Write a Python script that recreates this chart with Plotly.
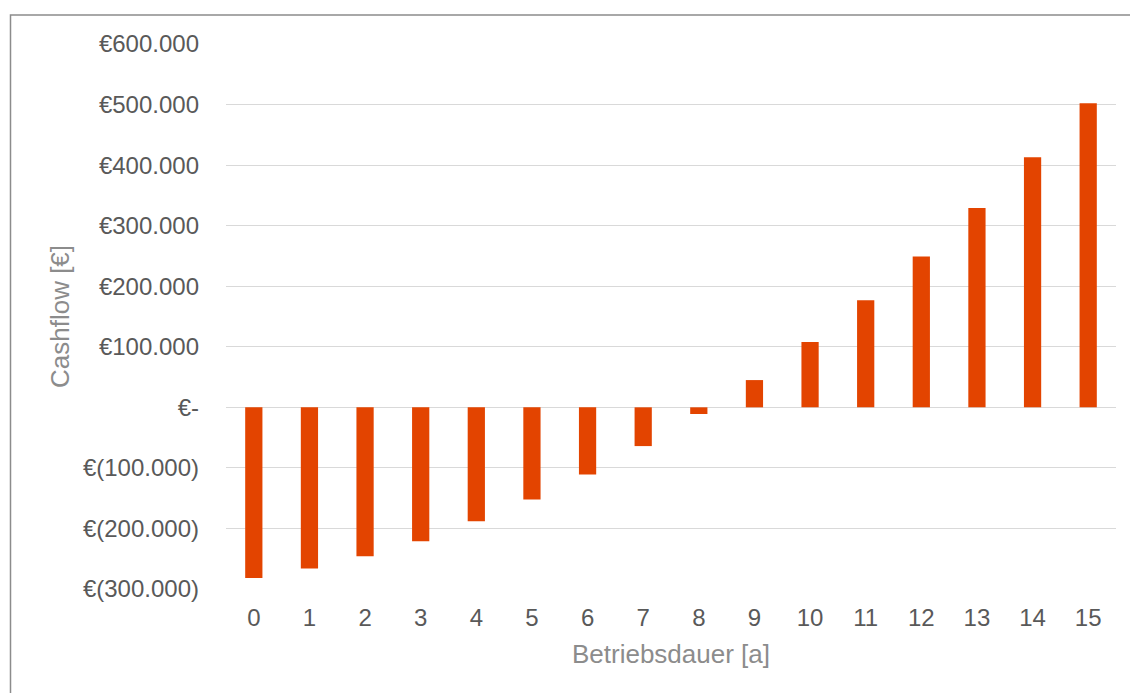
import plotly.graph_objects as go

# Operating years and annual cumulative cashflow in euros
years = list(range(16))
cashflow = [-282000, -266000, -246000, -221000, -188000, -152000, -111000, -64000,
            -11000, 45000, 108000, 177000, 249000, 329000, 413000, 502000]

tick_vals = [600000, 500000, 400000, 300000, 200000, 100000, 0,
             -100000, -200000, -300000]
tick_text = ["€600.000", "€500.000", "€400.000", "€300.000", "€200.000",
             "€100.000", "€-", "€(100.000)", "€(200.000)", "€(300.000)"]

font_family = "Liberation Sans, Arial, sans-serif"

fig = go.Figure(
    go.Bar(
        x=years,
        y=cashflow,
        marker=dict(color="#E34400", line=dict(width=0)),
        width=0.31,
    )
)

fig.update_layout(
    width=1130,
    height=693,
    margin=dict(l=226, r=14, t=44, b=104),
    paper_bgcolor="white",
    plot_bgcolor="white",
    showlegend=False,
    font=dict(family=font_family, color="#595959", size=24),
)

fig.update_xaxes(
    tickmode="array",
    tickvals=years,
    ticktext=[str(y) for y in years],
    range=[-0.5, 15.5],
    showgrid=False,
    zeroline=False,
    showline=False,
    ticks="",
    ticklabelstandoff=12,
    tickfont=dict(size=24, color="#595959"),
    title=dict(text="Betriebsdauer [a]", font=dict(size=26, color="#8c8c8c"), standoff=14),
)

fig.update_yaxes(
    tickmode="array",
    tickvals=tick_vals,
    ticktext=tick_text,
    range=[-300000, 600000],
    showgrid=True,
    gridcolor="#d9d9d9",
    gridwidth=1.3,
    zeroline=False,
    showline=False,
    ticks="",
    ticklabelstandoff=26,
    tickfont=dict(size=24, color="#595959"),
    title=dict(text="Cashflow [€]", font=dict(size=26, color="#8c8c8c"), standoff=5),
)

# Chart frame around the whole drawing
fig.add_shape(
    type="rect",
    xref="paper", yref="paper",
    x0=(10.5 - 226) / 890, x1=1.2,
    y0=-0.5, y1=(589 - 15) / 545,
    line=dict(color="#8c8c8c", width=1.5),
    fillcolor="rgba(0,0,0,0)",
    layer="below",
)

fig.write_html("out.html")
